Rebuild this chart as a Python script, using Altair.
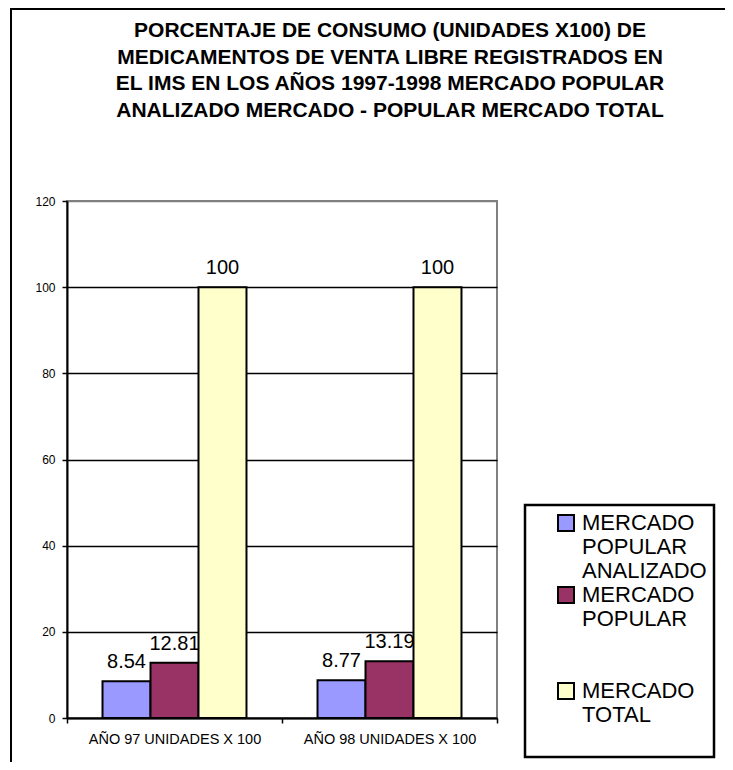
import json
import altair as alt
import pandas as pd

# ---- data ----
categories = ["AÑO 97 UNIDADES X 100", "AÑO 98 UNIDADES X 100"]
series = ["MERCADO POPULAR ANALIZADO", "MERCADO POPULAR", "MERCADO TOTAL"]
popular_analizado = [8.54, 8.77]
popular = [12.81, 13.19]
total = [100, 100]
colors = ["#9999FF", "#993366", "#FFFFCC"]
y_ticks = [0, 20, 40, 60, 80, 100, 120]
title_lines = [
    "PORCENTAJE DE CONSUMO (UNIDADES X100) DE",
    "MEDICAMENTOS DE VENTA  LIBRE REGISTRADOS EN",
    "EL IMS EN LOS AÑOS 1997-1998 MERCADO POPULAR",
    "ANALIZADO MERCADO - POPULAR MERCADO TOTAL",
]
legend_lines = [
    ["MERCADO", "POPULAR", "ANALIZADO"],
    ["MERCADO", "POPULAR", "", ""],
    ["MERCADO", "TOTAL", ""],
]

FONT = "Liberation Sans"

rows = []
for s, vals in zip(series, [popular_analizado, popular, total]):
    for c, v in zip(categories, vals):
        rows.append({"cat": c, "series": s, "value": v, "label": f"{v:g}"})
df = pd.DataFrame(rows)

# legend label expression (multi-line)
expr = json.dumps(legend_lines[-1])
for s, lines in reversed(list(zip(series[:-1], legend_lines[:-1]))):
    expr = f"datum.label == {json.dumps(s)} ? {json.dumps(lines)} : ({expr})"

x_enc = alt.X(
    "cat:N",
    sort=categories,
    scale=alt.Scale(paddingInner=0, paddingOuter=0),
    axis=alt.Axis(
        title=None,
        labelAngle=0,
        tickBand="extent",
        labelFont=FONT,
        labelFontSize=14.5,
        labelColor="black",
        labelPadding=9,
        domainColor="black",
        domainWidth=2,
        tickColor="black",
        tickWidth=1.5,
        tickSize=5,
        grid=False,
    ),
)
xoff_enc = alt.XOffset(
    "series:N", sort=series, scale=alt.Scale(paddingInner=0, paddingOuter=0.74)
)
y_enc = alt.Y(
    "value:Q",
    scale=alt.Scale(domain=[0, 120], nice=False),
    axis=alt.Axis(
        title=None,
        values=y_ticks,
        labelFont=FONT,
        labelFontSize=12,
        labelColor="black",
        labelPadding=7,
        domainColor="black",
        domainWidth=2,
        tickColor="black",
        tickWidth=1.5,
        tickSize=5,
        grid=True,
        gridColor={
            "condition": {"test": "datum.value === 120", "value": "#808080"},
            "value": "black",
        },
        gridWidth=1.5,
    ),
)

base = alt.Chart(df)

bars = base.mark_bar(stroke="black", strokeWidth=2).encode(
    x=x_enc,
    xOffset=xoff_enc,
    y=y_enc,
    color=alt.Color(
        "series:N",
        sort=series,
        scale=alt.Scale(domain=series, range=colors),
        legend=alt.Legend(
            title=None,
            orient="none",
            legendX=458,
            legendY=304,
            direction="vertical",
            symbolType="square",
            symbolSize=256,
            symbolStrokeColor="black",
            symbolStrokeWidth=2,
            symbolOffset=23,
            labelFont=FONT,
            labelFontSize=22,
            labelColor="black",
            labelOffset=5,
            labelLimit=300,
            labelExpr=expr,
            rowPadding=1,
            padding=7,
            strokeColor="black",
        ),
    ),
)

labels = base.mark_text(
    baseline="alphabetic", dy=-13, fontSize=20, font=FONT, color="black"
).encode(x=x_enc, xOffset=xoff_enc, y=y_enc, text="label:N")

frame = (
    alt.Chart(pd.DataFrame({"f": [0]}))
    .mark_rect(fill="transparent", stroke="black", strokeWidth=2)
    .encode(
        x=alt.value(-56), x2=alt.value(900), y=alt.value(-192), y2=alt.value(900)
    )
)

chart = (
    alt.layer(frame, labels, bars)
    .properties(
        width=430,
        height=517,
        autosize=alt.AutoSizeParams(type="none"),
        padding={"left": 59, "top": 193, "right": 228, "bottom": 44},
        title=alt.TitleParams(
            text=title_lines,
            font=FONT,
            fontSize=21,
            fontWeight="bold",
            color="black",
            lineHeight=26.7,
            anchor="middle",
            dx=108,
            offset=-113,
        ),
    )
    .configure(
        view={"stroke": "#808080", "strokeWidth": 2},
        legend={"strokeWidth": 2.5, "symbolOpacity": 1},
        style={"guide-label": {"lineHeight": 24}},
    )
)

chart.save("out.html", embed_options={"renderer": "svg", "actions": False})
